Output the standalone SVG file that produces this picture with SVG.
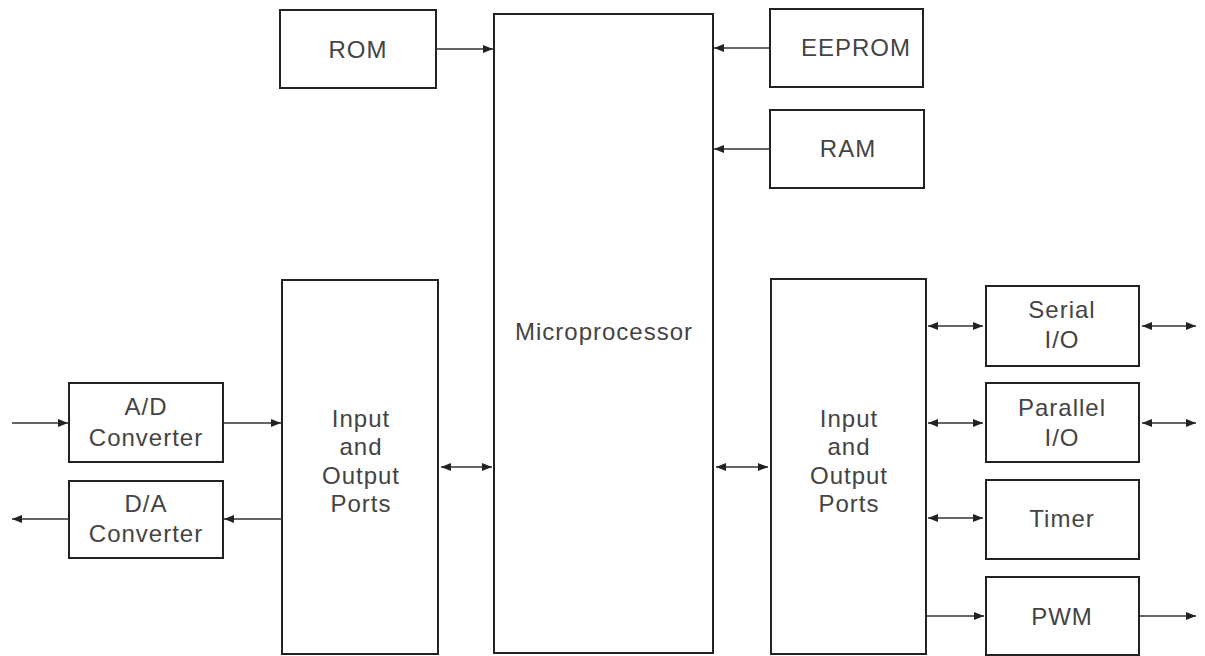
<svg xmlns="http://www.w3.org/2000/svg" width="1205" height="656" viewBox="0 0 1205 656">
<defs>
<style>
.box{fill:#fff;stroke:#222;stroke-width:2}
.t{font-family:"Liberation Sans",Arial,sans-serif;font-size:24px;fill:#444;text-anchor:middle;letter-spacing:1px}
.c{stroke:#333;stroke-width:1.5;fill:none}
</style>
<marker id="ah" viewBox="0 0 10 8" refX="10" refY="4" markerWidth="10" markerHeight="8" markerUnits="userSpaceOnUse" orient="auto-start-reverse">
<path d="M0,0 L10,4 L0,8 Z" fill="#222"/>
</marker>
</defs>
<rect width="1205" height="656" fill="#fff"/>
<g id="rom"><rect class="box" x="280" y="10" width="156" height="78"/><text class="t" x="358" y="58">ROM</text></g>
<g id="microprocessor"><rect class="box" x="494" y="14" width="219" height="639"/><text class="t" x="604" y="340">Microprocessor</text></g>
<g id="eeprom"><rect class="box" x="770" y="9" width="153" height="78"/><text class="t" x="856" y="56">EEPROM</text></g>
<g id="ram"><rect class="box" x="770" y="110" width="154" height="78"/><text class="t" x="848" y="157">RAM</text></g>
<g id="io-left"><rect class="box" x="282" y="280" width="156" height="374"/>
<text class="t" x="361" y="427">Input</text><text class="t" x="361" y="455">and</text><text class="t" x="361" y="484">Output</text><text class="t" x="361" y="512">Ports</text></g>
<g id="io-right"><rect class="box" x="771" y="279" width="155" height="375"/>
<text class="t" x="849" y="427">Input</text><text class="t" x="849" y="455">and</text><text class="t" x="849" y="484">Output</text><text class="t" x="849" y="512">Ports</text></g>
<g id="ad"><rect class="box" x="69" y="383" width="154" height="79"/><text class="t" x="146" y="415">A/D</text><text class="t" x="146" y="446">Converter</text></g>
<g id="da"><rect class="box" x="69" y="481" width="154" height="77"/><text class="t" x="146" y="512">D/A</text><text class="t" x="146" y="542">Converter</text></g>
<g id="serial"><rect class="box" x="986" y="286" width="153" height="80"/><text class="t" x="1062" y="318">Serial</text><text class="t" x="1062" y="348">I/O</text></g>
<g id="parallel"><rect class="box" x="986" y="383" width="153" height="79"/><text class="t" x="1062" y="416">Parallel</text><text class="t" x="1062" y="446">I/O</text></g>
<g id="timer"><rect class="box" x="986" y="480" width="153" height="79"/><text class="t" x="1062" y="527">Timer</text></g>
<g id="pwm"><rect class="box" x="986" y="577" width="153" height="78"/><text class="t" x="1062" y="625">PWM</text></g>
<g id="connectors">
<line class="c" x1="436" y1="49" x2="493" y2="49" marker-end="url(#ah)"/>
<line class="c" x1="770" y1="48" x2="714" y2="48" marker-end="url(#ah)"/>
<line class="c" x1="770" y1="149" x2="714" y2="149" marker-end="url(#ah)"/>
<line class="c" x1="12" y1="423" x2="68" y2="423" marker-end="url(#ah)"/>
<line class="c" x1="223" y1="423" x2="281" y2="423" marker-end="url(#ah)"/>
<line class="c" x1="282" y1="519" x2="224" y2="519" marker-end="url(#ah)"/>
<line class="c" x1="69" y1="519" x2="12" y2="519" marker-end="url(#ah)"/>
<line class="c" x1="441" y1="467" x2="492" y2="467" marker-start="url(#ah)" marker-end="url(#ah)"/>
<line class="c" x1="716" y1="467" x2="768" y2="467" marker-start="url(#ah)" marker-end="url(#ah)"/>
<line class="c" x1="928" y1="326" x2="983" y2="326" marker-start="url(#ah)" marker-end="url(#ah)"/>
<line class="c" x1="1142" y1="326" x2="1196" y2="326" marker-start="url(#ah)" marker-end="url(#ah)"/>
<line class="c" x1="928" y1="423" x2="983" y2="423" marker-start="url(#ah)" marker-end="url(#ah)"/>
<line class="c" x1="1142" y1="423" x2="1196" y2="423" marker-start="url(#ah)" marker-end="url(#ah)"/>
<line class="c" x1="928" y1="518" x2="983" y2="518" marker-start="url(#ah)" marker-end="url(#ah)"/>
<line class="c" x1="927" y1="616" x2="984" y2="616" marker-end="url(#ah)"/>
<line class="c" x1="1140" y1="616" x2="1196" y2="616" marker-end="url(#ah)"/>
</g>
</svg>
